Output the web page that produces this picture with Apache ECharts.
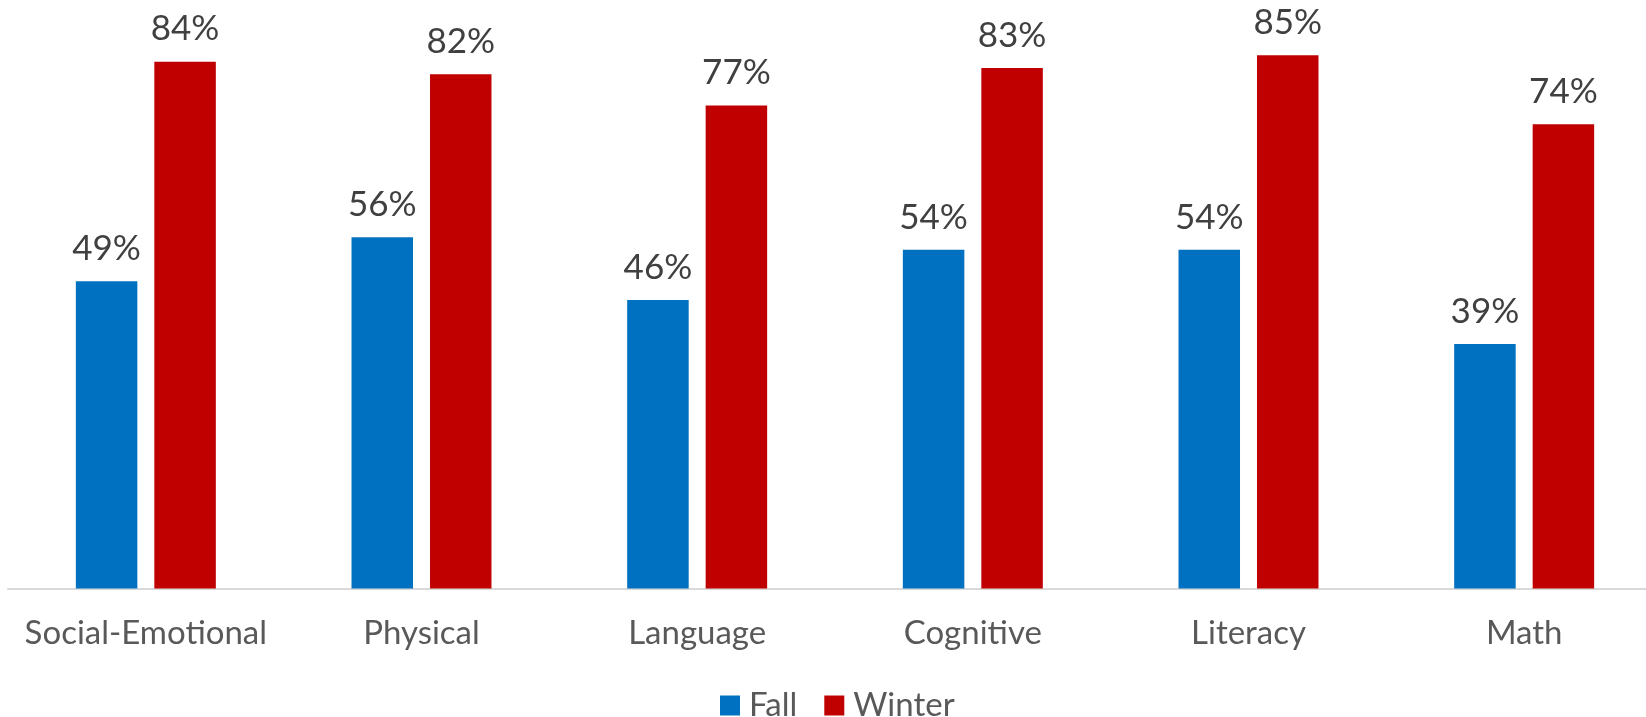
<!DOCTYPE html>
<html>
<head>
<meta charset="utf-8">
<script src="https://cdn.jsdelivr.net/npm/echarts@6/dist/echarts.min.js"></script>
<style>html,body{margin:0;padding:0;background:#fff;overflow:hidden;}#c{width:1670px;height:717px;}</style>
</head>
<body>
<div id="c"></div>
<script>
var categories = ['Social-Emotional', 'Physical', 'Language', 'Cognitive', 'Literacy', 'Math'];
var fallValues = [49, 56, 46, 54, 54, 39];
var winterValues = [84, 82, 77, 83, 85, 74];
var seriesNames = ['Fall', 'Winter'];

var chart = echarts.init(document.getElementById('c'));
var labelCfg = {
  show: true, position: 'top', distance: 15,
  formatter: function (p) { return p.value + '%'; },
  fontFamily: 'Lato', fontSize: 35, color: '#404040'
};
chart.setOption({
  animation: false,
  grid: { left: 8, top: 24, width: 1654, height: 564.5, containLabel: false },
  legend: {
    data: seriesNames, left: 715, top: 684, icon: 'rect',
    itemWidth: 20, itemHeight: 20, itemGap: 27,
    textStyle: { fontFamily: 'Lato', fontSize: 33, color: '#595959', padding: [0, 0, 0, 4] }
  },
  xAxis: {
    type: 'category', data: categories,
    axisLine: { lineStyle: { color: '#d9d9d9', width: 2 } },
    axisTick: { show: false },
    axisLabel: { interval: 0, fontFamily: 'Lato', fontSize: 33, color: '#595959', margin: 28 }
  },
  yAxis: {
    type: 'value', min: 0, max: 90, show: false, splitLine: { show: false }
  },
  series: [
    { name: seriesNames[0], type: 'bar', data: fallValues, barWidth: 61.5, barGap: '27.6%',
      itemStyle: { color: '#0070C0' }, label: labelCfg },
    { name: seriesNames[1], type: 'bar', data: winterValues, barWidth: 61.5, barGap: '27.6%',
      itemStyle: { color: '#C00000' }, label: labelCfg }
  ]
});
</script>
</body>
</html>
